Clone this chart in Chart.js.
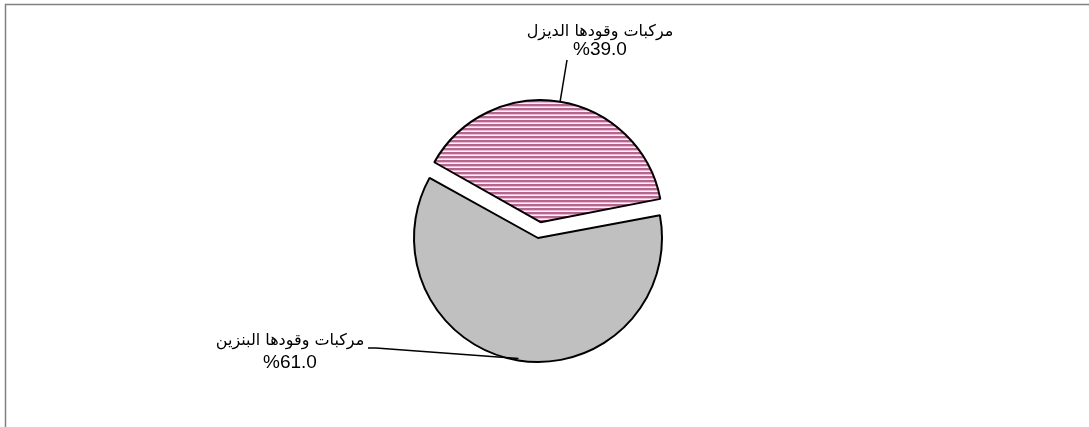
<!DOCTYPE html>
<html>
<head>
<meta charset="utf-8">
<script src="https://cdn.jsdelivr.net/npm/chart.js@4.4.1/dist/chart.umd.min.js"></script>
<style>
    body { margin: 0; background: #fff; }
    canvas { display: block; }
</style>
</head>
<body>
<canvas id="pieChart" width="1089" height="427"></canvas>
<script>
// Datos del gráfico
const categorias = ['مركبات وقودها الديزل', 'مركبات وقودها البنزين'];
const valores = [39.0, 61.0];
const desplazamientos = [64, 0];

const radio = 124;
const fuenteArabe = '16px "DejaVu Sans", "Liberation Sans", Arial, sans-serif';
const fuenteNumero = '19px "Liberation Sans", Arial, sans-serif';

// Relleno rayado para el sector rosa
const crearRayado = () =>
{
    const c = document.createElement('canvas');
    c.width = 8;
    c.height = 4;
    const g = c.getContext('2d');
    const filas = ['#993366', '#d070a0', '#f4d2e4', '#ffffff'];
    filas.forEach((color, i) =>
    {
        g.fillStyle = color;
        g.fillRect(0, i, 8, 1);
    });
    return g.createPattern(c, 'repeat');
}

// Marco gris arriba e izquierda
const marco =
{
    id: 'marco',
    beforeDraw: (chart) =>
    {
        const ctx = chart.ctx;
        ctx.save();
        ctx.strokeStyle = '#808080';
        ctx.lineWidth = 1.5;
        ctx.beginPath();
        ctx.moveTo(5.5, chart.height);
        ctx.lineTo(5.5, 4.5);
        ctx.lineTo(chart.width, 4.5);
        ctx.stroke();
        ctx.restore();
    }
};

// Chart.js agranda el sector desplazado; se corrige para que ambos tengan el mismo radio
const corregirRadio =
{
    id: 'corregirRadio',
    beforeDatasetsDraw: (chart) =>
    {
        chart.getDatasetMeta(0).data.forEach((arc, i) =>
        {
            const d = (desplazamientos[i] || 0) / 4;
            const fix = 1 - Math.sin(Math.min(Math.PI, arc.circumference || 0));
            arc.outerRadius = radio - 2 - d * fix;
            if (!d) arc.outerRadius = radio;
        });
    }
};

// Etiquetas con líneas guía
const etiquetas =
{
    id: 'etiquetas',
    afterDraw: (chart) =>
    {
        const ctx = chart.ctx;
        const arcs = chart.getDatasetMeta(0).data;
        const total = valores.reduce((a, b) => a + b, 0);

        // posición del texto y recorrido de la guía
        const textos =
        [
            { x: 600, y: 36, yPct: 55, guia: [[567, 60]] },
            { x: 290, y: 345, yPct: 368, guia: [[376, 348], [368, 348]] }
        ];

        ctx.save();
        arcs.forEach((arc, i) =>
        {
            const medio = (arc.startAngle + arc.endAngle) / 2;
            const d = (desplazamientos[i] || 0) / 4;
            const ax = arc.x + Math.cos(medio) * (radio - 2 + d);
            const ay = arc.y + Math.sin(medio) * (radio - 2 + d);

            ctx.strokeStyle = '#000';
            ctx.lineWidth = 1.5;
            ctx.beginPath();
            ctx.moveTo(ax, ay);
            textos[i].guia.forEach((p) => ctx.lineTo(p[0], p[1]));
            ctx.stroke();

            const pct = '%' + (valores[i] / total * 100).toFixed(1);
            ctx.fillStyle = '#000';
            ctx.textAlign = 'center';
            ctx.textBaseline = 'alphabetic';
            ctx.font = fuenteArabe;
            ctx.direction = 'rtl';
            ctx.fillText(categorias[i], textos[i].x, textos[i].y);
            ctx.font = fuenteNumero;
            ctx.direction = 'ltr';
            ctx.fillText(pct, textos[i].x, textos[i].yPct);
        });
        ctx.restore();
    }
};

const initPie = () =>
{
    const ctx = document.getElementById('pieChart');

    new Chart(ctx,
    {
        type: 'pie',
        data:
        {
            labels: categorias,
            datasets:
            [
                {
                    data: valores,
                    backgroundColor: [crearRayado(), '#c0c0c0'],
                    borderColor: '#000',
                    borderWidth: 2,
                    offset: desplazamientos
                }
            ]
        },
        options:
        {
            responsive: false,
            animation: false,
            rotation: -61,
            radius: radio,
            layout: { padding: { left: 0, right: 13, top: 49, bottom: 0 } },
            plugins:
            {
                legend: { display: false },
                tooltip: { enabled: false }
            }
        },
        plugins: [marco, corregirRadio, etiquetas]
    });
}

initPie();
</script>
</body>
</html>
